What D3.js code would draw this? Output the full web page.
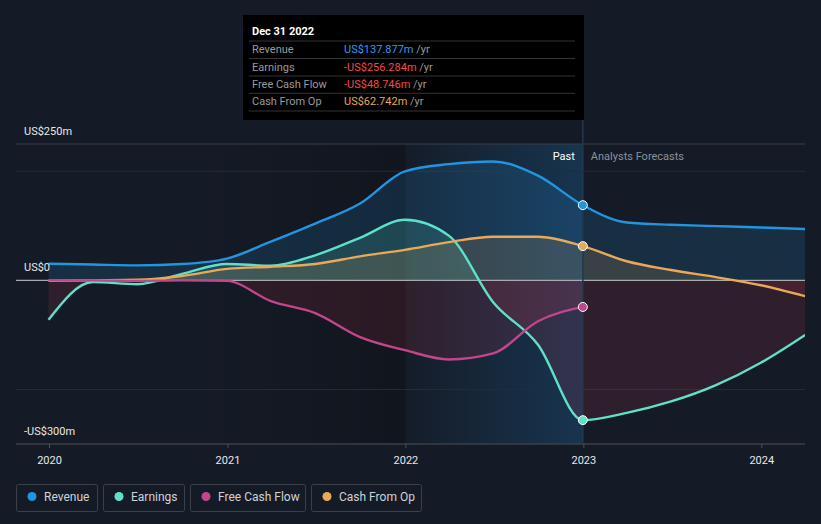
<!DOCTYPE html>
<html><head><meta charset="utf-8">
<script src="https://cdn.jsdelivr.net/npm/d3@7"></script>
<style>
body{margin:0;background:#151b26;}
svg{display:block;font-family:Roboto,"Noto Sans",sans-serif;}
</style>
</head><body>
<svg id="c" width="821" height="524"></svg>
<script>
// ---------- data ----------
const pastDates = ["2019-12-31","2020-03-31","2020-06-30","2020-09-30","2020-12-31","2021-03-31","2021-06-30","2021-09-30","2021-12-31","2022-03-31","2022-06-30","2022-09-30","2022-12-31"];
const forecastDates = ["2023-03-31","2023-06-30","2023-09-30","2023-12-31","2024-03-31"];

const revenuePast = [30.6, 29, 27.5, 30, 40, 71, 104, 141, 200, 213, 218, 192, 137.877];
const revenueForecast = [106, 102, 99.5, 97, 94];
const earningsPast = [-72, -3, -7, 12, 30, 27, 46, 78, 111, 82, -40, -118, -256.284];
const earningsForecast = [-243, -222, -192, -151, -100];
const fcfPast = [0, 0, -1, 0, -1, -38, -60, -104, -128, -145, -134, -75, -48.746];
const cfoPast = [-1, 0, 1, 8, 21, 25, 30, 44, 56, 70, 80, 80, 62.742];
const cfoForecast = [35, 19, 6, -9, -29];

const seriesNames = ["Revenue","Earnings","Free Cash Flow","Cash From Op"];
const seriesColors = ["#2394df","#5fe0c9","#c1468b","#e8a958"];
const tooltipTitle = "Dec 31 2022";
const tooltipValues = ["US$137.877m","-US$256.284m","-US$48.746m","US$62.742m"];
const tooltipValueColors = ["#2d9cf0","#f04a4a","#f04a4a","#e8a94f"];
const yTicks = [250, 0, -300];
const yTickLabels = ["US$250m","US$0","-US$300m"];
const yGrid = [200, -200];
const xTickYears = [2020, 2021, 2022, 2023, 2024];

// ---------- setup ----------
const parse = d3.timeParse("%Y-%m-%d");
const svg = d3.select("#c");
const x = d3.scaleTime().domain([new Date(2020,0,1), new Date(2024,0,1)]).range([49, 761.3]);
const y = d3.scaleLinear().domain([-300, 250]).range([444, 144]);
const plotL = 16, plotR = 805, plotT = 144, plotB = 444;
const nowDate = parse("2022-12-31");
const x0 = x(nowDate);

const defs = svg.append("defs");
defs.append("clipPath").attr("id","clipPos").append("rect")
  .attr("x",plotL).attr("y",plotT).attr("width",plotR-plotL).attr("height",y(0)-plotT);
defs.append("clipPath").attr("id","clipNeg").append("rect")
  .attr("x",plotL).attr("y",y(0)).attr("width",plotR-plotL).attr("height",plotB-y(0));
defs.append("clipPath").attr("id","clipAll").append("rect")
  .attr("x",plotL).attr("y",plotT-10).attr("width",plotR-plotL).attr("height",plotB-plotT+10);

const gHi = defs.append("linearGradient").attr("id","hiGrad").attr("x1","0").attr("x2","1").attr("y1","0").attr("y2","0");
gHi.append("stop").attr("offset","0").attr("stop-color","#1d6aa8").attr("stop-opacity",0.02);
gHi.append("stop").attr("offset","1").attr("stop-color","#1d6aa8").attr("stop-opacity",0.32);
const gDark = defs.append("linearGradient").attr("id","darkGrad").attr("x1","0").attr("x2","1").attr("y1","0").attr("y2","0");
gDark.append("stop").attr("offset","0").attr("stop-color","#000").attr("stop-opacity",0);
gDark.append("stop").attr("offset","1").attr("stop-color","#000").attr("stop-opacity",0.22);

// background shading
svg.append("rect").attr("x",200).attr("y",plotT).attr("width",x(new Date(2022,0,1))-200).attr("height",plotB-plotT).attr("fill","url(#darkGrad)");
svg.append("rect").attr("x",x(new Date(2022,0,1))).attr("y",plotT).attr("width",x0-x(new Date(2022,0,1))).attr("height",plotB-plotT).attr("fill","url(#hiGrad)");

// grid
const grid = svg.append("g");
yGrid.forEach(v=>{
  grid.append("line").attr("x1",plotL).attr("x2",plotR).attr("y1",y(v)).attr("y2",y(v)).attr("stroke","#262c37").attr("stroke-width",1);
});
[250,-300].forEach(v=>{
  grid.append("line").attr("x1",plotL).attr("x2",plotR).attr("y1",y(v)).attr("y2",y(v)).attr("stroke","#3a3f49").attr("stroke-width",1);
});

// series
const series = [
  {name:seriesNames[0], color:seriesColors[0], past:revenuePast, fc:revenueForecast},
  {name:seriesNames[1], color:seriesColors[1], past:earningsPast, fc:earningsForecast},
  {name:seriesNames[2], color:seriesColors[2], past:fcfPast, fc:null},
  {name:seriesNames[3], color:seriesColors[3], past:cfoPast, fc:cfoForecast}
];
series.forEach(s=>{
  s.pts = s.past.map((v,i)=>({d:parse(pastDates[i]), v}));
  if (s.fc) s.fc.forEach((v,i)=>s.pts.push({d:parse(forecastDates[i]), v}));
});

const area = d3.area().x(p=>x(p.d)).y0(y(0)).y1(p=>y(p.v)).curve(d3.curveMonotoneX);
const line = d3.line().x(p=>x(p.d)).y(p=>y(p.v)).curve(d3.curveMonotoneX);

const gA = svg.append("g").attr("clip-path","url(#clipAll)");
series.forEach(s=>{
  gA.append("path").attr("d",area(s.pts)).attr("fill",s.color).attr("fill-opacity",0.16).attr("clip-path","url(#clipPos)");
  gA.append("path").attr("d",area(s.pts)).attr("fill","#e0364c").attr("fill-opacity",0.13).attr("clip-path","url(#clipNeg)");
});

// zero line
svg.append("line").attr("x1",plotL).attr("x2",plotR).attr("y1",y(0)).attr("y2",y(0)).attr("stroke","#a9a9b0").attr("stroke-width",1.2);

// now line
svg.append("line").attr("x1",x0).attr("x2",x0).attr("y1",120).attr("y2",plotB).attr("stroke","#24374d").attr("stroke-width",1.5);

const gL = svg.append("g").attr("clip-path","url(#clipAll)");
[1,3,2,0].forEach(i=>{
  const s = series[i];
  gL.append("path").attr("d",line(s.pts)).attr("fill","none").attr("stroke",s.color).attr("stroke-width",2.4);
});
series.forEach(s=>{
  const last = s.past[s.past.length-1];
  svg.append("circle").attr("cx",x0).attr("cy",y(last)).attr("r",4.5).attr("fill",s.color).attr("stroke","#fff").attr("stroke-width",1);
});

// x axis
svg.append("line").attr("x1",plotL).attr("x2",plotR).attr("y1",plotB).attr("y2",plotB).attr("stroke","#3a3f49");
const xa = svg.append("g").attr("transform",`translate(0,${plotB})`)
  .call(d3.axisBottom(x).tickValues(xTickYears.map(yv=>new Date(yv,0,1))).tickFormat(d3.timeFormat("%Y")).tickSize(4).tickPadding(8));
xa.select(".domain").remove();
xa.selectAll("line").attr("stroke","#4a4f58");
xa.selectAll("text").attr("fill","#e8e8e8").attr("font-size",11).attr("font-family","Roboto, sans-serif");

// y labels
yTicks.forEach((v,i)=>{
  svg.append("text").attr("x",24).attr("y",y(v)-9).attr("fill","#e8e8e8").attr("font-size",11).text(yTickLabels[i]);
});

// past / forecast labels
svg.append("text").attr("x",x0-8).attr("y",160).attr("text-anchor","end").attr("fill","#ffffff").attr("font-size",11).text("Past");
svg.append("text").attr("x",x0+8).attr("y",160).attr("fill","#8a9099").attr("font-size",11).text("Analysts Forecasts");

// tooltip
const tt = svg.append("g");
tt.append("rect").attr("x",243).attr("y",15).attr("width",341).attr("height",105).attr("fill","#000");
tt.append("text").attr("x",252).attr("y",35).attr("fill","#fff").attr("font-size",11).attr("font-weight","bold").text(tooltipTitle);
const rowY = [53,70.5,88,105];
[41,58.5,76,93.3,111].forEach(ly=>{
  tt.append("line").attr("x1",249).attr("x2",575).attr("y1",ly).attr("y2",ly).attr("stroke","#333");
});
seriesNames.forEach((n,i)=>{
  tt.append("text").attr("x",252).attr("y",rowY[i]).attr("fill","#9a9a9a").attr("font-size",11).text(n);
  const t = tt.append("text").attr("x",344).attr("y",rowY[i]).attr("font-size",11);
  t.append("tspan").attr("fill",tooltipValueColors[i]).text(tooltipValues[i]);
  t.append("tspan").attr("fill","#9a9a9a").text(" /yr");
});

// legend
const legW = [81, 81, 115, 110];
let lx = 16;
seriesNames.forEach((n,i)=>{
  const g = svg.append("g").attr("transform",`translate(${lx},484)`);
  g.append("rect").attr("x",0.5).attr("y",0.5).attr("width",legW[i]).attr("height",27).attr("rx",2).attr("fill","none").attr("stroke","#3a3f49");
  g.append("circle").attr("cx",16).attr("cy",12.5).attr("r",4.5).attr("fill",seriesColors[i]);
  g.append("text").attr("x",28).attr("y",16.5).attr("fill","#cfd2d6").attr("font-size",12).text(n);
  lx += legW[i] + 6;
});
</script>
</body></html>
